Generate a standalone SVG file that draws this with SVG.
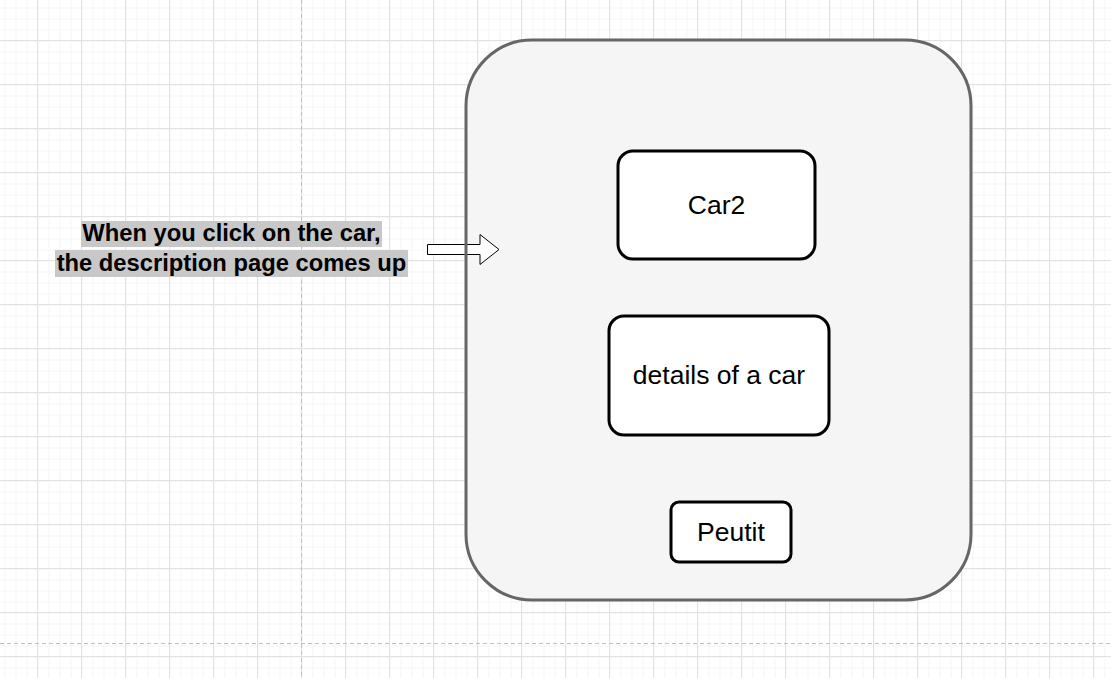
<svg xmlns="http://www.w3.org/2000/svg" width="1111" height="678" viewBox="0 0 1111 678">
  <defs>
    <pattern id="minor" x="4.5" y="7.5" width="11" height="11" patternUnits="userSpaceOnUse">
      <path d="M0 0.5H11M0.5 0V11" fill="none" stroke="#f4f4f4" stroke-width="1"/>
    </pattern>
    <pattern id="major" x="37" y="40" width="44" height="44" patternUnits="userSpaceOnUse">
      <path d="M0 0.5H44M0.5 0V44" fill="none" stroke="#e2e2e2" stroke-width="1"/>
    </pattern>
    <style>
      .node { fill: #ffffff; stroke: #000000; stroke-width: 3; }
      .lbl { font-family: "Liberation Sans", Arial, sans-serif; font-size: 26.5px; fill: #000000; text-anchor: middle; }
      .note { font-family: "Liberation Sans", Arial, sans-serif; font-size: 23.75px; font-weight: bold; fill: #000000; text-anchor: middle; }
      .hl { fill: #c8c8c8; }
      .page { stroke: #c0c0c0; stroke-width: 1; stroke-dasharray: 4 3; fill: none; }
    </style>
  </defs>
  <rect width="1111" height="678" fill="#ffffff"/>
  <rect width="1111" height="678" fill="url(#minor)"/>
  <rect width="1111" height="678" fill="url(#major)"/>
  <path class="page" d="M301.5 0V678M0 643.5H1111"/>

  <g id="note">
    <rect class="hl" x="81" y="221" width="301" height="26"/>
    <rect class="hl" x="55" y="250" width="353" height="27"/>
    <text class="note" x="231.5" y="241">When you click on the car,</text>
    <text class="note" x="231.5" y="271">the description page comes up</text>
  </g>

  <g id="container">
    <rect x="466" y="40" width="505" height="560" rx="66" ry="66" fill="#f5f5f5"/>
  </g>

  <g id="connectors">
    <path d="M427.5 244.5H480V234.5L499 249.5L480 264.5V254.5H427.5Z" fill="#ffffff" stroke="#000000" stroke-width="1"/>
  </g>

  <g id="container-border">
    <rect x="466" y="40" width="505" height="560" rx="66" ry="66" fill="none" stroke="#666666" stroke-width="3"/>
  </g>

  <g id="car2">
    <rect class="node" x="618" y="151" width="197" height="108" rx="15" ry="15"/>
    <text class="lbl" x="716.5" y="214">Car2</text>
  </g>

  <g id="details">
    <rect class="node" x="609" y="316" width="220" height="119" rx="15" ry="15"/>
    <text class="lbl" x="719" y="384">details of a car</text>
  </g>

  <g id="peutit">
    <rect class="node" x="671" y="502" width="120" height="60" rx="8" ry="8"/>
    <text class="lbl" x="731" y="541">Peutit</text>
  </g>
</svg>
